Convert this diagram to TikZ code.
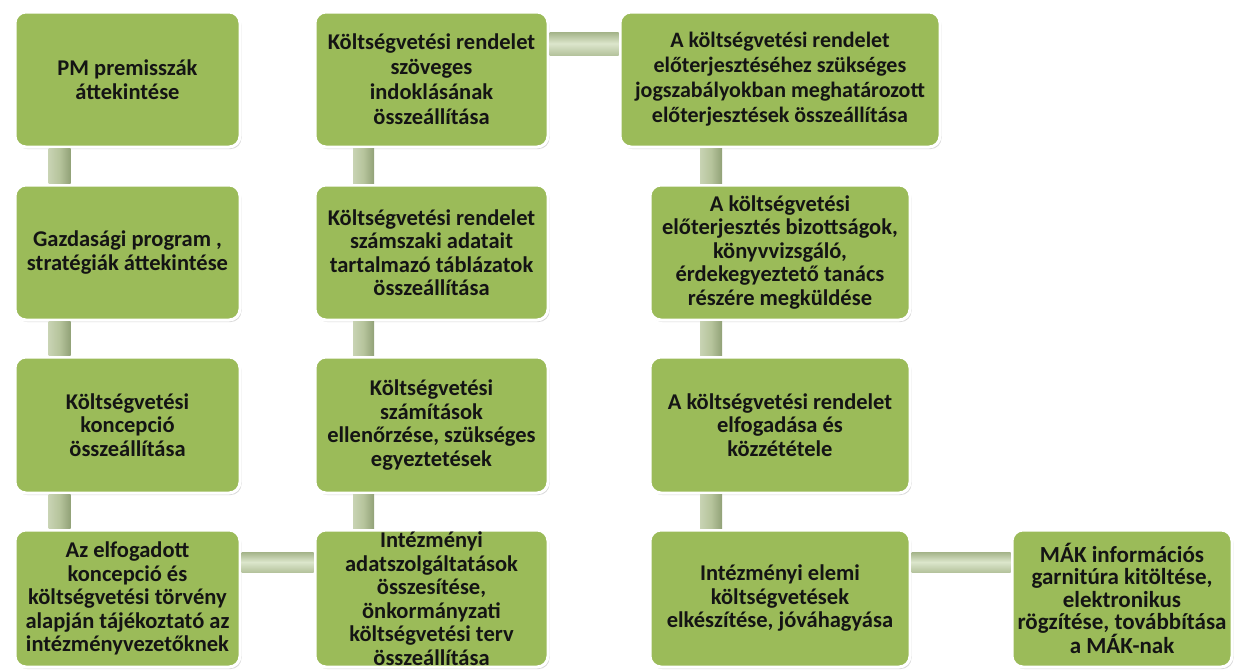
\documentclass[tikz,border=0pt]{standalone}
\usepackage{fontspec}
\setmainfont{Carlito}
\usetikzlibrary{shadows}
\definecolor{boxgreen}{HTML}{9BBB59}
\definecolor{vbarL}{HTML}{C8D3B3}
\definecolor{vbarM}{HTML}{B6C49C}
\definecolor{vbarR}{HTML}{91A177}
\definecolor{hbarT}{HTML}{A3B388}
\definecolor{hbarM}{HTML}{DCE6CC}
\definecolor{hbarB}{HTML}{B5C39D}
\tikzset{
  stepbox/.style={draw=white, line width=3pt, fill=boxgreen, rounded corners=11pt,
    inner sep=0pt, align=center, text=black!92,
    font=\fontsize{22.5}{23.5}\selectfont\bfseries,
    drop shadow={shadow xshift=1.5pt, shadow yshift=-2pt, opacity=0.22, fill=black!70}},
  colA/.style={minimum width=225pt},
  colB/.style={minimum width=233pt},
  colC/.style={minimum width=260pt},
  vbar/.style={left color=vbarL, right color=vbarR, middle color=vbarM, draw=none},
  hbar/.style={top color=hbarT, bottom color=hbarB, middle color=hbarM, draw=none},
}
\begin{document}
\begin{tikzpicture}[x=1pt, y=-1pt]
\useasboundingbox (0,0) rectangle (1234,670);
% column 1
\node[stepbox, colA, minimum height=135pt] (c1r1) at (127.5,79.5) {PM premisszák\\áttekintése};
\node[stepbox, colA, minimum height=135pt] (c1r2) at (127.5,252.5) {Gazdasági program ,\\stratégiák áttekintése};
\node[stepbox, colA, minimum height=136pt] (c1r3) at (127.5,425) {Költségvetési\\koncepció\\összeállítása};
\node[stepbox, colA, minimum height=137pt] (c1r4) at (127.5,598.5) {Az elfogadott\\koncepció és\\költségvetési törvény\\alapján tájékoztató az\\intézményvezetőknek};
% column 2
\node[stepbox, colB, minimum height=135pt, font=\fontsize{22.5}{25}\selectfont\bfseries] (c2r1) at (431.5,79.5) {Költségvetési rendelet\\szöveges\\indoklásának\\összeállítása};
\node[stepbox, colB, minimum height=135pt] (c2r2) at (431.5,252.5) {Költségvetési rendelet\\számszaki adatait\\tartalmazó táblázatok\\összeállítása};
\node[stepbox, colB, minimum height=136pt] (c2r3) at (431.5,425) {Költségvetési\\számítások\\ellenőrzése, szükséges\\egyeztetések};
\node[stepbox, colB, minimum height=137pt] (c2r4) at (431.5,598.5) {Intézményi\\adatszolgáltatások\\összesítése,\\önkormányzati\\költségvetési terv\\összeállítása};
% column 3
\node[stepbox, minimum width=320pt, minimum height=135pt, font=\fontsize{22}{25}\selectfont\bfseries] (c3r1) at (780,79.5) {A költségvetési rendelet\\előterjesztéséhez szükséges\\jogszabályokban meghatározott\\előterjesztések összeállítása};
\node[stepbox, colC, minimum height=135pt] (c3r2) at (780,252.5) {A költségvetési\\előterjesztés bizottságok,\\könyvvizsgáló,\\érdekegyeztető tanács\\részére megküldése};
\node[stepbox, colC, minimum height=136pt] (c3r3) at (780,425) {A költségvetési rendelet\\elfogadása és\\közzététele};
\node[stepbox, colC, minimum height=137pt] (c3r4) at (780,598.5) {Intézményi elemi\\költségvetések\\elkészítése, jóváhagyása};
% column 4
\node[stepbox, minimum width=220pt, minimum height=137pt, font=\fontsize{23}{22.5}\selectfont\bfseries] (c4r4) at (1122,598.5) {MÁK információs\\garnitúra kitöltése,\\elektronikus\\rögzítése, továbbítása\\a MÁK-nak};
% vertical connectors
\path[vbar] ([xshift=35pt]c1r1.south west) rectangle ([xshift=57pt]c1r2.north west);
\path[vbar] ([xshift=35pt]c1r2.south west) rectangle ([xshift=57pt]c1r3.north west);
\path[vbar] ([xshift=35pt]c1r3.south west) rectangle ([xshift=57pt]c1r4.north west);
\path[vbar] ([xshift=39.5pt]c2r1.south west) rectangle ([xshift=60.5pt]c2r2.north west);
\path[vbar] ([xshift=39.5pt]c2r2.south west) rectangle ([xshift=60.5pt]c2r3.north west);
\path[vbar] ([xshift=39.5pt]c2r3.south west) rectangle ([xshift=60.5pt]c2r4.north west);
\coordinate (k1) at ([xshift=51.5pt]c3r2.north west);
\path[vbar] (k1 |- c3r1.south) rectangle ([xshift=73.5pt]c3r2.north west);
\path[vbar] ([xshift=51.5pt]c3r2.south west) rectangle ([xshift=73.5pt]c3r3.north west);
\path[vbar] ([xshift=51.5pt]c3r3.south west) rectangle ([xshift=73.5pt]c3r4.north west);
% horizontal connectors
\path[hbar] ([yshift=-21.5pt]c2r1.north east) rectangle ([yshift=-44.5pt]c3r1.north west);
\path[hbar] ([yshift=-23.5pt]c1r4.north east) rectangle ([yshift=-43.5pt]c2r4.north west);
\path[hbar] ([yshift=-23.5pt]c3r4.north east) rectangle ([yshift=-43.5pt]c4r4.north west);
\end{tikzpicture}
\end{document}
